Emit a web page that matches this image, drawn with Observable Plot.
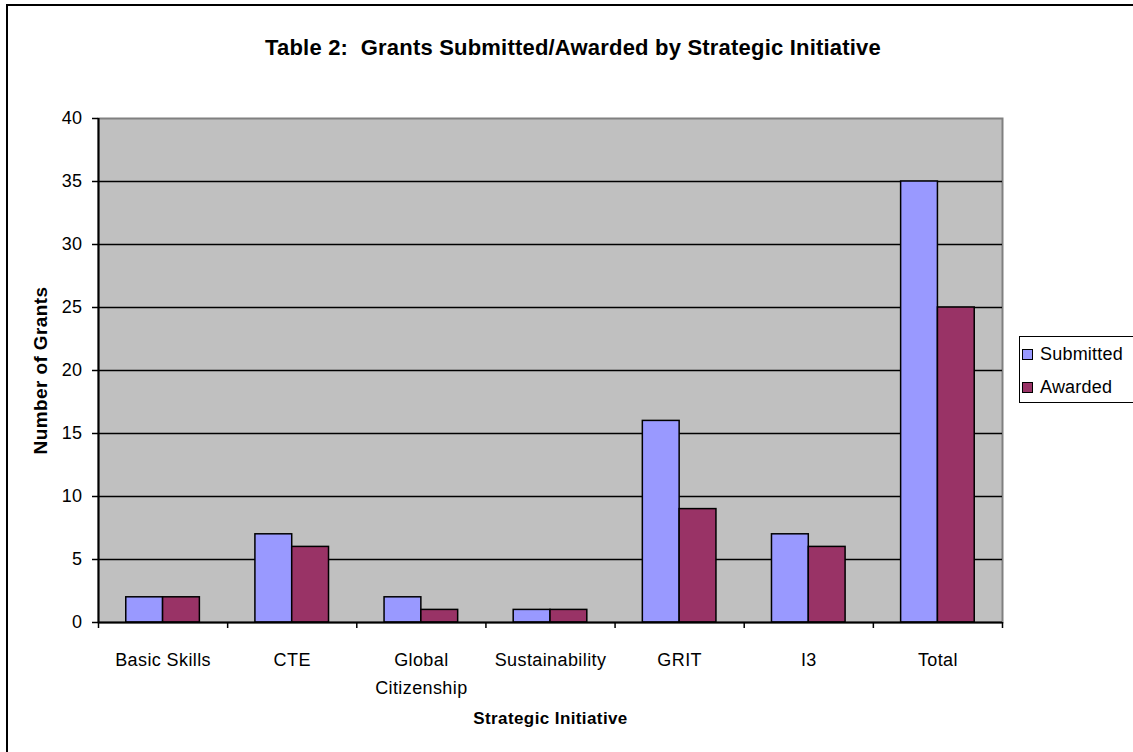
<!DOCTYPE html>
<html>
<head>
<meta charset="utf-8">
<script src="https://cdn.jsdelivr.net/npm/d3@7"></script>
<script src="https://cdn.jsdelivr.net/npm/@observablehq/plot@0.6"></script>
<style>
  html, body { margin: 0; padding: 0; background: #fff; overflow: hidden; }
  #wrap { position: relative; width: 1133px; height: 752px; font-family: "Liberation Sans", Arial, sans-serif; }
  #border { position: absolute; left: 6px; top: 4px; width: 1200px; height: 800px; border-left: 2px solid #000; border-top: 2px solid #000; pointer-events: none; }
  #title { position: absolute; left: 0; top: 35px; width: 1146px; text-align: center; font-weight: bold; font-size: 22px; letter-spacing: 0.2px; color: #000; white-space: pre; }
  #chart { position: absolute; left: 0; top: 80px; }
  #legend { position: absolute; left: 1019px; top: 336px; width: 118px; height: 67px; border: 1px solid #000; background: #fff; box-sizing: border-box; font-size: 18px; letter-spacing: 0.2px; }
  .row { position: absolute; left: 2px; height: 20px; display: flex; align-items: center; }
  .sw { width: 9px; height: 9px; border: 1px solid #000; margin-right: 7px; }
</style>
</head>
<body>
<div id="wrap">
  <div id="title"></div>
  <div id="chart"></div>
  <div id="legend"></div>
  <div id="border"></div>
</div>
<script>
const titleText = "Table 2:  Grants Submitted/Awarded by Strategic Initiative";
const categories = ["Basic Skills", "CTE", "Global\nCitizenship", "Sustainability", "GRIT", "I3", "Total"];
const seriesNames = ["Submitted", "Awarded"];
const submitted = [2, 7, 2, 1, 16, 7, 35];
const awarded = [2, 6, 1, 1, 9, 6, 25];
const seriesColors = ["#9999FF", "#993366"];
const yTicks = [0, 5, 10, 15, 20, 25, 30, 35, 40];
const gridValues = [5, 10, 15, 20, 25, 30, 35];
const yLabel = "Number of Grants";
const xLabel = "Strategic Initiative";

document.getElementById("title").textContent = titleText;

const gap = 0.215; // outer gap fraction of each category slot
const rows = [];
categories.forEach((c, i) => {
  rows.push({cat: c, i, series: seriesNames[0], value: submitted[i], a: i + gap, b: i + 0.5});
  rows.push({cat: c, i, series: seriesNames[1], value: awarded[i], a: i + 0.5, b: i + 1 - gap});
});
const slots = categories.map((c, i) => ({cat: c, i}));
const boundaries = d3.range(categories.length + 1);

const chart = Plot.plot({
  width: 1133,
  height: 672,
  marginLeft: 98,
  marginRight: 131,
  marginTop: 38,
  marginBottom: 130,
  style: {background: "transparent", color: "#000", fontFamily: "'Liberation Sans', Arial, sans-serif", fontSize: "18px"},
  x: {type: "linear", domain: [0, categories.length], axis: null},
  y: {domain: [0, 40], axis: null},
  color: {domain: seriesNames, range: seriesColors},
  marks: [
    Plot.frame({fill: "#C0C0C0", stroke: "#808080", strokeWidth: 2}),
    Plot.ruleY(gridValues, {stroke: "#000", strokeWidth: 1.5}),
    Plot.rectY(rows, {x1: "a", x2: "b", y1: 0, y2: "value", fill: "series", stroke: "#000", strokeWidth: 1.5}),
    Plot.ruleY([0], {stroke: "#000", strokeWidth: 2}),
    Plot.ruleX([0], {stroke: "#000", strokeWidth: 2}),
    Plot.axisY({ticks: yTicks, tickSize: 6, tickPadding: 10, fontSize: 18, stroke: "#000", strokeWidth: 1.5, label: null}),
    Plot.axisX({ticks: boundaries, tickSize: 6, tickFormat: () => "", stroke: "#000", strokeWidth: 1.5, label: null}),
    Plot.text(slots, {x: d => d.i + 0.5, y: 0, text: "cat", lineAnchor: "top", dy: 24, lineHeight: 1.55, fontSize: 18}),
    Plot.text([xLabel], {frameAnchor: "bottom", lineAnchor: "top", dy: 89, fontWeight: "bold", fontSize: 17}),
    Plot.text([yLabel], {frameAnchor: "left", textAnchor: "middle", lineAnchor: "middle", rotate: -90, dx: -58, fontWeight: "bold", fontSize: 19})
  ]
});
d3.select(chart).selectAll("text").style("letter-spacing", "0.4px");
document.getElementById("chart").appendChild(chart);

const legend = document.getElementById("legend");
seriesNames.forEach((s, k) => {
  const row = document.createElement("div");
  row.className = "row";
  row.style.top = (7 + k * 33) + "px";
  const sw = document.createElement("div");
  sw.className = "sw";
  sw.style.background = seriesColors[k];
  const t = document.createElement("span");
  t.textContent = s;
  row.appendChild(sw);
  row.appendChild(t);
  legend.appendChild(row);
});
</script>
</body>
</html>
